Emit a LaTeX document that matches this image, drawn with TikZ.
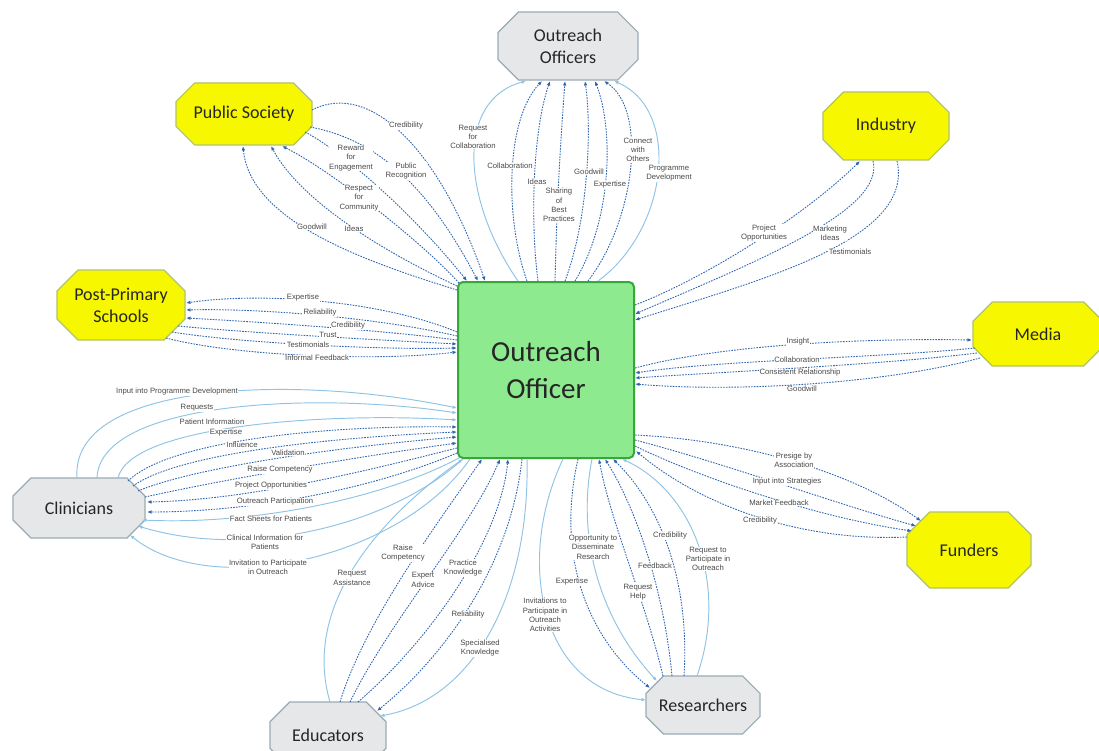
\documentclass[tikz,border=0pt]{standalone}
\usepackage{fontspec}
\setmainfont{Carlito}
\newfontfamily\lblfam{Liberation Sans}
\usetikzlibrary{arrows.meta}
\definecolor{dotblue}{HTML}{2F66B0}
\definecolor{solblue}{HTML}{90C4E6}
\definecolor{lblgray}{HTML}{4A4A4A}
\definecolor{cfill}{HTML}{8EEA8E}
\definecolor{cdraw}{HTML}{36A83A}
\definecolor{yfill}{HTML}{F7F700}
\definecolor{ydraw}{HTML}{AFC46A}
\definecolor{gfill}{HTML}{E6E7E9}
\definecolor{gdraw}{HTML}{9AAAB4}
\newcommand\octo[5]{%
  \draw[#5] ({#1-#3+0.6*#4},{#2-#4}) -- ({#1+#3-0.6*#4},{#2-#4}) -- ({#1+#3},{#2-0.4*#4}) -- ({#1+#3},{#2+0.4*#4}) -- ({#1+#3-0.6*#4},{#2+#4}) -- ({#1-#3+0.6*#4},{#2+#4}) -- ({#1-#3},{#2+0.4*#4}) -- ({#1-#3},{#2-0.4*#4}) -- cycle;}
\newcommand\octnode[7]{%
  \octo{#2}{#3}{#4}{#5}{#6}%
  \node[octtext, minimum width={2*#4}, minimum height={2*#5}] (#1) at (#2,#3) {#7};}
\begin{document}
\begin{tikzpicture}[x=1pt,y=-1pt,
  dotl/.style={draw=dotblue, line width=0.9pt, dash pattern=on 1.6pt off 1.2pt},
  soll/.style={draw=solblue, line width=0.95pt},
  ar/.style={-{Latex[length=4.5pt,width=3.6pt]}},
  lbl/.style={font=\lblfam\fontsize{7.7}{9.3}\selectfont, text=lblgray, fill=white, inner sep=0.5pt, align=center},
  octtext/.style={inner sep=0pt, font=\fontsize{18}{22}\selectfont, align=center, text=black!85},
  yoct/.style={fill=yfill, draw=ydraw, line width=1.2pt},
  goct/.style={fill=gfill, draw=gdraw, line width=1.2pt}]
\useasboundingbox (0,0) rectangle (1099,751);
\fill[white] (0,0) rectangle (1099,751);

% central node
\node[fill=cfill, draw=cdraw, line width=2pt, rounded corners=5pt, minimum width=176, minimum height=176,
  font=\fontsize{29}{37}\selectfont, align=center, text=black!85] (C) at (546,370) {Outreach\\Officer};

% octagon nodes
\octnode{OO}{568}{46}{70}{34}{goct}{Outreach\\Officers}
\octnode{PS}{244}{114}{68}{31}{yoct}{Public Society}
\octnode{IN}{886}{126}{63}{34}{yoct}{Industry}
\octnode{PP}{121}{305}{64}{35}{yoct}{Post-Primary\\Schools}
\octnode{ME}{1038}{334}{65}{32}{yoct}{Media}
\octnode{CL}{79}{508}{66}{30}{goct}{Clinicians}
\octnode{FU}{969}{550}{62}{38}{yoct}{Funders}
\octnode{ED}{328}{735}{58}{33}{goct}{Educators}
\octnode{RE}{703}{705}{57}{29}{goct}{Researchers}

% ---- Outreach Officers group
\draw[soll,ar] ([shift={(518-546,281-370)}]C.center) .. controls (462,200) and (455,100) .. ([shift={(526-568,81-46)}]OO.center);
\draw[dotl,ar] ([shift={(527-546,281-370)}]C.center) .. controls (505,220) and (505,120) .. ([shift={(542-568,81-46)}]OO.center);
\draw[dotl,ar] ([shift={(538-546,281-370)}]C.center) .. controls (530,220) and (533,130) .. ([shift={(550-568,81-46)}]OO.center);
\draw[dotl,ar] ([shift={(555-546,281-370)}]C.center) .. controls (557,200) and (560,150) .. ([shift={(565-568,81-46)}]OO.center);
\draw[dotl,ar] ([shift={(565-546,281-370)}]C.center) .. controls (588,220) and (592,130) .. ([shift={(585-568,81-46)}]OO.center);
\draw[dotl,ar] ([shift={(575-546,281-370)}]C.center) .. controls (612,220) and (614,130) .. ([shift={(595-568,81-46)}]OO.center);
\draw[dotl,ar] ([shift={(588-546,281-370)}]C.center) .. controls (635,220) and (648,110) .. ([shift={(604-568,81-46)}]OO.center);
\draw[soll,ar] ([shift={(598-546,281-370)}]C.center) .. controls (668,230) and (682,110) .. ([shift={(614-568,81-46)}]OO.center);
\node[lbl] (l1) at (473,137) {Request\\for\\Collaboration};
\node[lbl] (l2) at (510,166) {Collaboration};
\node[lbl] (l3) at (537,182) {Ideas};
\node[lbl] (l4) at (559,205) {Sharing\\of\\Best\\Practices};
\node[lbl] (l5) at (589,172) {Goodwill};
\node[lbl] (l6) at (610,185) {Expertise};
\node[lbl] (l7) at (638,150) {Connect\\with\\Others};
\node[lbl] (l8) at (669,173) {Programme\\Development};

% ---- Public Society group
\draw[dotl,ar] ([shift={(312-244,110-114)}]PS.center) .. controls (370,80) and (440,150) .. ([shift={(485-546,281-370)}]C.center);
\draw[dotl,ar] ([shift={(310-244,127-114)}]PS.center) .. controls (380,140) and (430,190) .. ([shift={(478-546,281-370)}]C.center);
\draw[dotl,ar] ([shift={(305-244,132-114)}]PS.center) .. controls (340,150) and (410,210) .. ([shift={(467-546,281-370)}]C.center);
\draw[dotl,ar] ([shift={(459-546,283-370)}]C.center) .. controls (420,240) and (330,170) .. ([shift={(282-244,146-114)}]PS.center);
\draw[dotl,ar] ([shift={(457-546,286-370)}]C.center) .. controls (380,250) and (300,200) .. ([shift={(271-244,146-114)}]PS.center);
\draw[dotl,ar] ([shift={(457-546,290-370)}]C.center) .. controls (360,260) and (250,220) .. ([shift={(243-244,146-114)}]PS.center);
\node[lbl] (l9) at (406,126) {Credibility};
\node[lbl] (l10) at (406,171) {Public\\Recognition};
\node[lbl] (l11) at (351,158) {Reward\\for\\Engagement};
\node[lbl] (l12) at (359,198) {Respect\\for\\Community};
\node[lbl] (l13) at (354,229) {Ideas};
\node[lbl] (l14) at (312,227) {Goodwill};

% ---- Industry group
\draw[dotl,ar] ([shift={(635-546,305-370)}]C.center) .. controls (700,280) and (800,220) .. ([shift={(860-886,161-126)}]IN.center);
\draw[dotl,ar] ([shift={(873-886,161-126)}]IN.center) .. controls (885,210) and (760,260) .. ([shift={(635-546,314-370)}]C.center);
\draw[dotl,ar] ([shift={(897-886,161-126)}]IN.center) .. controls (915,240) and (760,280) .. ([shift={(635-546,320-370)}]C.center);
\node[lbl] (l15) at (764,233) {Project\\Opportunities};
\node[lbl] (l16) at (830,233) {Marketing\\Ideas};
\node[lbl] (l17) at (850,252) {Testimonials};

% ---- Post-Primary group
\draw[dotl,ar] ([shift={(457-546,332-370)}]C.center) .. controls (380,300) and (260,292) .. ([shift={(186-121,303-305)}]PP.center);
\draw[dotl,ar] ([shift={(457-546,336-370)}]C.center) .. controls (380,318) and (260,308) .. ([shift={(186-121,310-305)}]PP.center);
\draw[dotl,ar] ([shift={(457-546,340-370)}]C.center) .. controls (380,330) and (260,322) .. ([shift={(186-121,318-305)}]PP.center);
\draw[dotl,ar] ([shift={(178-121,326-305)}]PP.center) .. controls (250,333) and (380,340) .. ([shift={(457-546,344-370)}]C.center);
\draw[dotl,ar] ([shift={(172-121,332-305)}]PP.center) .. controls (240,343) and (380,350) .. ([shift={(457-546,348-370)}]C.center);
\draw[dotl,ar] ([shift={(166-121,338-305)}]PP.center) .. controls (230,355) and (370,362) .. ([shift={(457-546,352-370)}]C.center);
\node[lbl] (l18) at (303,298) {Expertise};
\node[lbl] (l19) at (320,313) {Reliability};
\node[lbl] (l20) at (348,326) {Credibility};
\node[lbl] (l21) at (328,335) {Trust};
\node[lbl] (l22) at (308,345) {Testimonials};
\node[lbl] (l23) at (317,358) {Informal Feedback};

% ---- Media group
\draw[dotl,ar] ([shift={(635-546,368-370)}]C.center) .. controls (720,345) and (860,338) .. ([shift={(972-1038,340-334)}]ME.center);
\draw[dotl,ar] ([shift={(975-1038,348-334)}]ME.center) .. controls (880,358) and (720,360) .. ([shift={(635-546,373-370)}]C.center);
\draw[dotl,ar] ([shift={(977-1038,353-334)}]ME.center) .. controls (880,365) and (720,372) .. ([shift={(635-546,378-370)}]C.center);
\draw[dotl,ar] ([shift={(980-1038,358-334)}]ME.center) .. controls (880,385) and (730,392) .. ([shift={(635-546,384-370)}]C.center);
\node[lbl] (l24) at (798,342) {Insight};
\node[lbl] (l25) at (797,360) {Collaboration};
\node[lbl] (l26) at (800,373) {Consistent Relationship};
\node[lbl] (l27) at (802,389) {Goodwill};

% ---- Clinicians group
\draw[soll,ar] ([shift={(77-79,478-508)}]CL.center) .. controls (70,380) and (300,375) .. ([shift={(457-546,408-370)}]C.center);
\draw[soll,ar] ([shift={(97-79,478-508)}]CL.center) .. controls (100,400) and (320,392) .. ([shift={(457-546,413-370)}]C.center);
\draw[soll,ar] ([shift={(118-79,478-508)}]CL.center) .. controls (130,425) and (330,412) .. ([shift={(457-546,420-370)}]C.center);
\draw[dotl,ar] ([shift={(128-79,481-508)}]CL.center) .. controls (170,440) and (330,425) .. ([shift={(457-546,427-370)}]C.center);
\draw[dotl,ar] ([shift={(133-79,486-508)}]CL.center) .. controls (180,452) and (340,437) .. ([shift={(457-546,432-370)}]C.center);
\draw[dotl,ar] ([shift={(138-79,491-508)}]CL.center) .. controls (200,465) and (360,445) .. ([shift={(457-546,437-370)}]C.center);
\draw[dotl,ar] ([shift={(145-79,497-508)}]CL.center) .. controls (230,478) and (370,455) .. ([shift={(457-546,443-370)}]C.center);
\draw[dotl,ar] ([shift={(457-546,448-370)}]C.center) .. controls (370,470) and (250,500) .. ([shift={(147-79,502-508)}]CL.center);
\draw[dotl,ar] ([shift={(457-546,453-370)}]C.center) .. controls (370,490) and (250,512) .. ([shift={(147-79,512-508)}]CL.center);
\draw[soll,ar] ([shift={(459-546,458-370)}]C.center) .. controls (380,500) and (250,525) .. ([shift={(142-79,520-508)}]CL.center);
\draw[soll,ar] ([shift={(463-546,459-370)}]C.center) .. controls (390,525) and (250,560) .. ([shift={(138-79,526-508)}]CL.center);
\draw[soll,ar] ([shift={(470-546,459-370)}]C.center) .. controls (400,560) and (210,600) .. ([shift={(130-79,535-508)}]CL.center);
\node[lbl] (l28) at (177,392) {Input into Programme Development};
\node[lbl] (l29) at (197,408) {Requests};
\node[lbl] (l30) at (212,422) {Patient Information};
\node[lbl] (l31) at (226,433) {Expertise};
\node[lbl] (l32) at (242,445) {Influence};
\node[lbl] (l33) at (288,453) {Validation};
\node[lbl] (l34) at (280,470) {Raise Competency};
\node[lbl] (l35) at (271,486) {Project Opportunities};
\node[lbl] (l36) at (275,502) {Outreach Participation};
\node[lbl] (l37) at (271,519) {Fact Sheets for Patients};
\node[lbl] (l38) at (265,542) {Clinical Information for\\Patients};
\node[lbl] (l39) at (268,567) {Invitation to Participate\\in Outreach};

% ---- Funders group
\draw[dotl,ar] ([shift={(635-546,435-370)}]C.center) .. controls (740,440) and (850,470) .. ([shift={(921-969,521-550)}]FU.center);
\draw[dotl,ar] ([shift={(635-546,440-370)}]C.center) .. controls (720,462) and (840,505) .. ([shift={(916-969,526-550)}]FU.center);
\draw[dotl,ar] ([shift={(635-546,446-370)}]C.center) .. controls (700,478) and (820,518) .. ([shift={(912-969,531-550)}]FU.center);
\draw[dotl,ar] ([shift={(907-969,537-550)}]FU.center) .. controls (800,542) and (700,505) .. ([shift={(636-546,451-370)}]C.center);
\node[lbl] (l40) at (794,460) {Presige by\\Association};
\node[lbl] (l41) at (787,482) {Input into Strategies};
\node[lbl] (l42) at (779,503) {Market Feedback};
\node[lbl] (l43) at (760,521) {Credibility};

% ---- Educators group
\draw[soll,ar] ([shift={(330-328,702-735)}]ED.center) .. controls (300,600) and (390,510) .. ([shift={(463-546,459-370)}]C.center);
\draw[dotl,ar] ([shift={(340-328,702-735)}]ED.center) .. controls (365,620) and (440,520) .. ([shift={(482-546,459-370)}]C.center);
\draw[dotl,ar] ([shift={(350-328,702-735)}]ED.center) .. controls (390,620) and (470,530) .. ([shift={(500-546,459-370)}]C.center);
\draw[dotl,ar] ([shift={(358-328,702-735)}]ED.center) .. controls (430,640) and (500,540) .. ([shift={(508-546,459-370)}]C.center);
\draw[dotl,ar] ([shift={(522-546,459-370)}]C.center) .. controls (510,570) and (440,660) .. ([shift={(377-328,711-735)}]ED.center);
\draw[soll,ar] ([shift={(527-546,459-370)}]C.center) .. controls (530,600) and (470,700) .. ([shift={(380-328,716-735)}]ED.center);
\node[lbl] (l44) at (352,578) {Request\\Assistance};
\node[lbl] (l45) at (403,553) {Raise\\Competency};
\node[lbl] (l46) at (423,580) {Expert\\Advice};
\node[lbl] (l47) at (463,568) {Practice\\Knowledge};
\node[lbl] (l48) at (468,615) {Reliability};
\node[lbl] (l49) at (480,648) {Specialised\\Knowledge};

% ---- Researchers group
\draw[soll,ar] ([shift={(563-546,459-370)}]C.center) .. controls (515,560) and (540,690) .. ([shift={(646-703,700-705)}]RE.center);
\draw[dotl,ar] ([shift={(578-546,459-370)}]C.center) .. controls (555,560) and (590,640) .. ([shift={(650-703,688-705)}]RE.center);
\draw[soll,ar] ([shift={(592-546,459-370)}]C.center) .. controls (575,545) and (605,625) .. ([shift={(657-703,681-705)}]RE.center);
\draw[dotl,ar] ([shift={(663-703,676-705)}]RE.center) .. controls (645,600) and (610,520) .. ([shift={(599-546,459-370)}]C.center);
\draw[dotl,ar] ([shift={(672-703,676-705)}]RE.center) .. controls (665,600) and (640,515) .. ([shift={(605-546,459-370)}]C.center);
\draw[dotl,ar] ([shift={(684-703,676-705)}]RE.center) .. controls (690,580) and (660,505) .. ([shift={(613-546,459-370)}]C.center);
\draw[soll,ar] ([shift={(697-703,676-705)}]RE.center) .. controls (730,580) and (690,490) .. ([shift={(622-546,459-370)}]C.center);
\node[lbl] (l50) at (545,615) {Invitations to\\Participate in\\Outreach\\Activities};
\node[lbl] (l51) at (572,582) {Expertise};
\node[lbl] (l52) at (593,547) {Opportunity to\\Disseminate\\Research};
\node[lbl] (l53) at (638,592) {Request\\Help};
\node[lbl] (l54) at (655,566) {Feedback};
\node[lbl] (l55) at (670,536) {Credibility};
\node[lbl] (l56) at (708,559) {Request to\\Participate in\\Outreach};
\end{tikzpicture}
\end{document}
